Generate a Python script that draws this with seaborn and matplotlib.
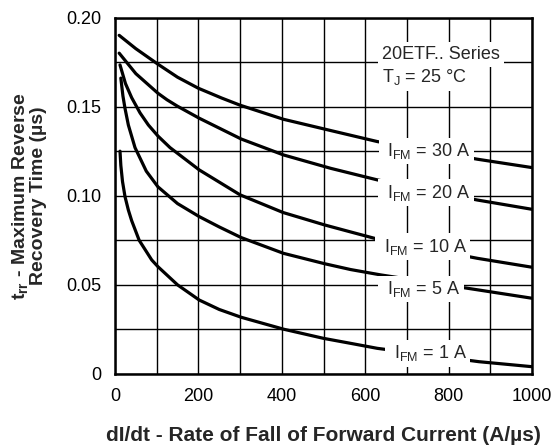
import numpy as np
import pandas as pd
import matplotlib
matplotlib.use("Agg")
import matplotlib.pyplot as plt
import seaborn as sns

# ---- data ----
x_30a = [10, 50, 103, 150, 200, 256, 300, 404, 517, 629, 869, 1000]
y_30a = [0.190, 0.1825, 0.1738, 0.1665, 0.1603, 0.1548, 0.1508, 0.1429, 0.1366, 0.1304, 0.1205, 0.1158]

x_20a = [10, 50, 103, 125, 150, 202, 303, 404, 517, 629, 869, 1000]
y_20a = [0.180, 0.1685, 0.1575, 0.1538, 0.1502, 0.1435, 0.1318, 0.1229, 0.1154, 0.1089, 0.0976, 0.0924]

x_10a = [12, 25, 40, 60, 80, 103, 132, 202, 300, 403, 503, 565, 629, 869, 1000]
y_10a = [0.1734, 0.163, 0.155, 0.1465, 0.1397, 0.1335, 0.127, 0.1145, 0.1005, 0.0906, 0.0836, 0.0797, 0.0757, 0.0649, 0.0599]

x_5a = [14, 19, 24, 32, 48, 75, 103, 150, 202, 250, 303, 404, 504, 565, 637, 873, 1000]
y_5a = [0.166, 0.156, 0.149, 0.1397, 0.127, 0.1138, 0.105, 0.0956, 0.0883, 0.0825, 0.0765, 0.0677, 0.0618, 0.0586, 0.0556, 0.0471, 0.0425]

x_1a = [12, 14, 18, 24, 32, 40, 58, 88, 103, 150, 202, 250, 303, 405, 500, 565, 629, 873, 1000]
y_1a = [0.125, 0.117, 0.108, 0.0995, 0.092, 0.086, 0.075, 0.064, 0.0602, 0.050, 0.0415, 0.0362, 0.0318, 0.0251, 0.020, 0.0172, 0.0144, 0.0069, 0.0041]

curve_names = ["30 A", "20 A", "10 A", "5 A", "1 A"]
label_x = [747, 746, 738, 734, 750]
label_y = [0.1223, 0.0988, 0.0686, 0.0449, 0.0088]

x_ticks = [0, 200, 400, 600, 800, 1000]
x_tick_labels = ["0", "200", "400", "600", "800", "1000"]
y_ticks = [0, 0.05, 0.10, 0.15, 0.20]
y_tick_labels = ["0", "0.05", "0.10", "0.15", "0.20"]

# ---- build table ----
series = [(x_30a, y_30a), (x_20a, y_20a), (x_10a, y_10a), (x_5a, y_5a), (x_1a, y_1a)]
frames = []
for name, (xs, ys) in zip(curve_names, series):
    frames.append(pd.DataFrame({"x": xs, "y": ys, "curve": name}))
df = pd.concat(frames, ignore_index=True)

sns.set_style("white")
plt.rcParams["font.family"] = ["Liberation Sans", "DejaVu Sans"]
plt.rcParams["mathtext.fontset"] = "custom"
plt.rcParams["mathtext.rm"] = "Liberation Sans"
plt.rcParams["mathtext.it"] = "Liberation Sans:italic"
plt.rcParams["mathtext.bf"] = "Liberation Sans:bold"

fig = plt.figure(figsize=(5.55, 4.45), dpi=100)
ax = fig.add_axes([115 / 555, 1 - 374 / 445, (532 - 115) / 555, (374 - 17.5) / 445])

sns.lineplot(data=df, x="x", y="y", hue="curve", palette=["black"] * 5,
             estimator=None, sort=False, lw=2.3, legend=False, ax=ax, zorder=3)

ax.set_xlim(0, 1000)
ax.set_ylim(0, 0.2)
ax.set_xticks(x_ticks)
ax.set_xticklabels(x_tick_labels)
ax.set_xticks(np.arange(0, 1001, 100), minor=True)
ax.set_yticks(y_ticks)
ax.set_yticklabels(y_tick_labels)
ax.set_yticks(np.arange(0, 0.2001, 0.025), minor=True)
ax.grid(True, which="both", color="black", lw=1.0, zorder=1)
ax.set_axisbelow(True)
ax.tick_params(which="both", length=0, labelsize=13, colors="black")
ax.tick_params(axis="x", pad=10)
ax.tick_params(axis="y", pad=10)
for s in ax.spines.values():
    s.set_visible(True)
    s.set_color("black")
    s.set_linewidth(1.8)
    s.set_zorder(6)

ax.set_xlabel("dI/dt - Rate of Fall of Forward Current (A/µs)", fontsize=15,
              fontweight="bold", labelpad=15)
ax.set_ylabel("t$_\\mathbf{rr}$ - Maximum Reverse\nRecovery Time (µs)", fontsize=14,
              fontweight="bold", labelpad=14, multialignment="center", linespacing=0.95)

for name, lx, ly in zip(curve_names, label_x, label_y):
    ax.text(lx, ly, " I$_\\mathrm{FM}$ = " + name + " ", fontsize=13, ha="center",
            va="baseline", zorder=5,
            bbox=dict(facecolor="white", edgecolor="none", pad=2.5))

ax.text(641, 0.1766, "20ETF.. Series", fontsize=13, ha="left", va="baseline", zorder=5,
        bbox=dict(facecolor="white", edgecolor="none", pad=3))
ax.text(641, 0.164, "T$_\\mathrm{J}$ = 25 °C", fontsize=13, ha="left", va="baseline", zorder=5,
        bbox=dict(facecolor="white", edgecolor="none", pad=3))

fig.savefig("out.png", dpi=100)
